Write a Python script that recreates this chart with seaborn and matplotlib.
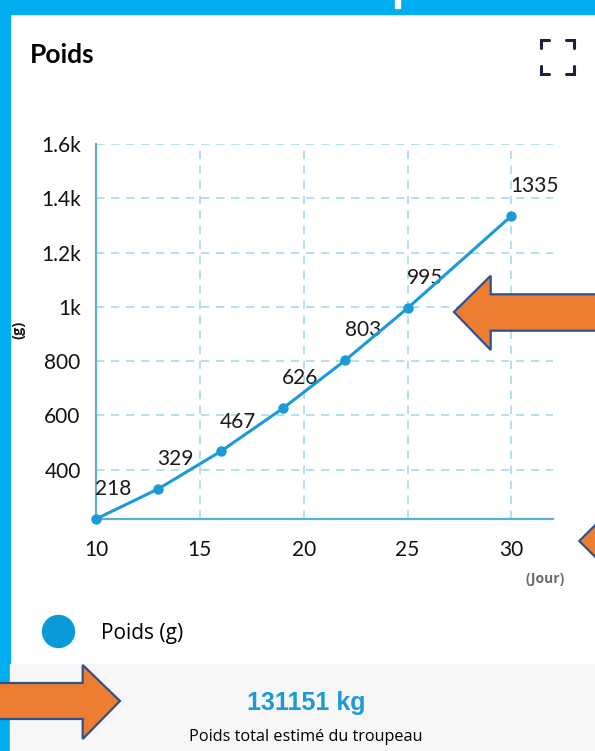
import pandas as pd
import matplotlib
matplotlib.use("Agg")
import matplotlib.pyplot as plt
import seaborn as sns
from matplotlib.patches import Polygon, Rectangle
from matplotlib.lines import Line2D

# --- DATA ---
days = [10, 13, 16, 19, 22, 25, 30]
weights = [218, 329, 467, 626, 803, 995, 1335]
x_ticks = [10, 15, 20, 25, 30]
y_ticks = [400, 600, 800, 1000, 1200, 1400, 1600]
y_tick_labels = ["400", "600", "800", "1k", "1.2k", "1.4k", "1.6k"]
series_name = "Poids (g)"
total_value = "131151 kg"
total_caption = "Poids total estimé du troupeau"

# --- STYLE ---
W, H = 595, 751
BLUE = "#00adef"
LINE = "#1a9ad6"
GRID = "#a6dcea"
SPINE = "#5aaede"
ORANGE = "#ed7d31"
EDGE = "#2f528f"


def fx(x):
    return x / W


def fy(y):
    return 1 - y / H


def fpt(x, y):
    return (fx(x), fy(y))


def main():
    sns.set_style("white")
    plt.rcParams["font.family"] = ["Lato", "DejaVu Sans"]
    plt.rcParams["text.color"] = "black"

    df = pd.DataFrame({"day": days, "weight": weights})

    fig = plt.figure(figsize=(W / 100, H / 100), dpi=100)
    fig.patch.set_facecolor("white")

    # frame: blue border top and left, grey panel at the bottom
    fig.add_artist(Rectangle((0, fy(14)), 1, 14 / H, color=BLUE, zorder=-5,
                             transform=fig.transFigure))
    fig.add_artist(Rectangle((0, 0), 9.5 / W, 1, color=BLUE, zorder=-5,
                             transform=fig.transFigure))
    fig.add_artist(Rectangle((fx(9.5), 0), 1, 87 / H, color="#f7f7f7", zorder=-5,
                             transform=fig.transFigure))
    fig.add_artist(Rectangle((fx(395), fy(8)), 5 / W, 8 / H, color="white", zorder=-4,
                             transform=fig.transFigure))

    ax = fig.add_axes([fx(96), fy(519), (553 - 96) / W, (519 - 144) / H])
    ax.set_facecolor("none")

    sns.lineplot(data=df, x="day", y="weight", ax=ax, color=LINE, linewidth=2.2,
                 marker="o", markersize=7.5, markeredgewidth=0, zorder=4, clip_on=False)

    for d, w in zip(days, weights):
        ax.annotate(str(w), (d, w), xytext=(-0.5, 21.5), textcoords="offset points",
                    ha="left", va="center", fontsize=15, color="#1a1a1a")

    ax.set_xlim(10, 32)
    ax.set_ylim(218, 1600)
    ax.set_xticks(x_ticks)
    ax.set_yticks(y_ticks)
    ax.set_yticklabels(y_tick_labels)
    ax.tick_params(axis="both", length=0, labelsize=15, colors="#111111")
    ax.tick_params(axis="y", pad=11)
    ax.tick_params(axis="x", pad=15)
    ax.set_xlabel("")
    ax.set_ylabel("")

    ax.grid(True, color=GRID, linestyle=(0, (5, 4)), linewidth=1.2)
    for s in ["top", "right"]:
        ax.spines[s].set_visible(False)
    for s in ["left", "bottom"]:
        ax.spines[s].set_color(SPINE)
        ax.spines[s].set_linewidth(1.6)

    # titles and axis units
    fig.text(fx(30), fy(55), "Poids", fontsize=19, fontweight="bold", ha="left", va="center",
             color="black")
    fig.text(fx(18.5), fy(330), "(g)", fontsize=10.5, fontweight="bold", rotation=90,
             ha="center", va="center", color="#1a1a1a", family=["Open Sans", "DejaVu Sans"])
    fig.text(fx(545), fy(579), "(Jour)", fontsize=10, fontweight="bold", ha="center",
             va="center", color="#6b6b6b", family=["Open Sans", "DejaVu Sans"])

    # expand icon
    ic = "#1c2340"
    L = 8
    for cx, cy, dx, dy in [(541, 40, 1, 1), (574, 40, -1, 1), (541, 74, 1, -1), (574, 74, -1, -1)]:
        fig.add_artist(Line2D([fx(cx + dx * L), fx(cx), fx(cx)], [fy(cy), fy(cy), fy(cy + dy * L)],
                              color=ic, linewidth=2.2, solid_joinstyle="miter",
                              transform=fig.transFigure))

    # legend (marker centre at x=58, text starting near x=100)
    fs = 15
    handle = Line2D([], [], marker="o", linestyle="", color="#0b9ad8", markersize=23)
    fs_px = fs / 72 * 100
    anchor_x = 58 - fs_px  # handlelength=2 -> marker centre one fontsize in
    leg = fig.legend([handle], [series_name], loc="center left", bbox_to_anchor=fpt(anchor_x, 633),
                     bbox_transform=fig.transFigure, frameon=False, borderpad=0, borderaxespad=0,
                     handlelength=2, handletextpad=(100.6 - anchor_x - 2 * fs_px) / fs_px,
                     prop={"family": ["Open Sans", "DejaVu Sans"], "size": fs})
    for t in leg.get_texts():
        t.set_color("black")

    # total
    fig.text(fx(306), fy(703), total_value, fontsize=18, fontweight="bold", color="#1a9ad6",
             ha="center", va="center", family=["Liberation Sans", "DejaVu Sans"])
    fig.text(fx(306), fy(737), total_caption, fontsize=11.7, color="black",
             ha="center", va="center", family=["Open Sans", "DejaVu Sans"])

    # orange annotation arrows
    arrows = [
        [(454, 312), (490.7, 275.7), (490.7, 294.3), (600, 294.3), (600, 330.7),
         (490.7, 330.7), (490.7, 350)],
        [(-5, 683), (82.7, 683), (82.7, 665), (120, 701), (82.7, 739), (82.7, 719), (-5, 719)],
        [(579.3, 541), (600, 520.3), (600, 561.7)],
    ]
    for pts in arrows:
        fig.add_artist(Polygon([fpt(*p) for p in pts], closed=True, facecolor=ORANGE,
                               edgecolor=EDGE, linewidth=1.6, zorder=6,
                               transform=fig.transFigure))

    fig.savefig("out.png", dpi=100)
    plt.close(fig)


if __name__ == "__main__":
    main()
